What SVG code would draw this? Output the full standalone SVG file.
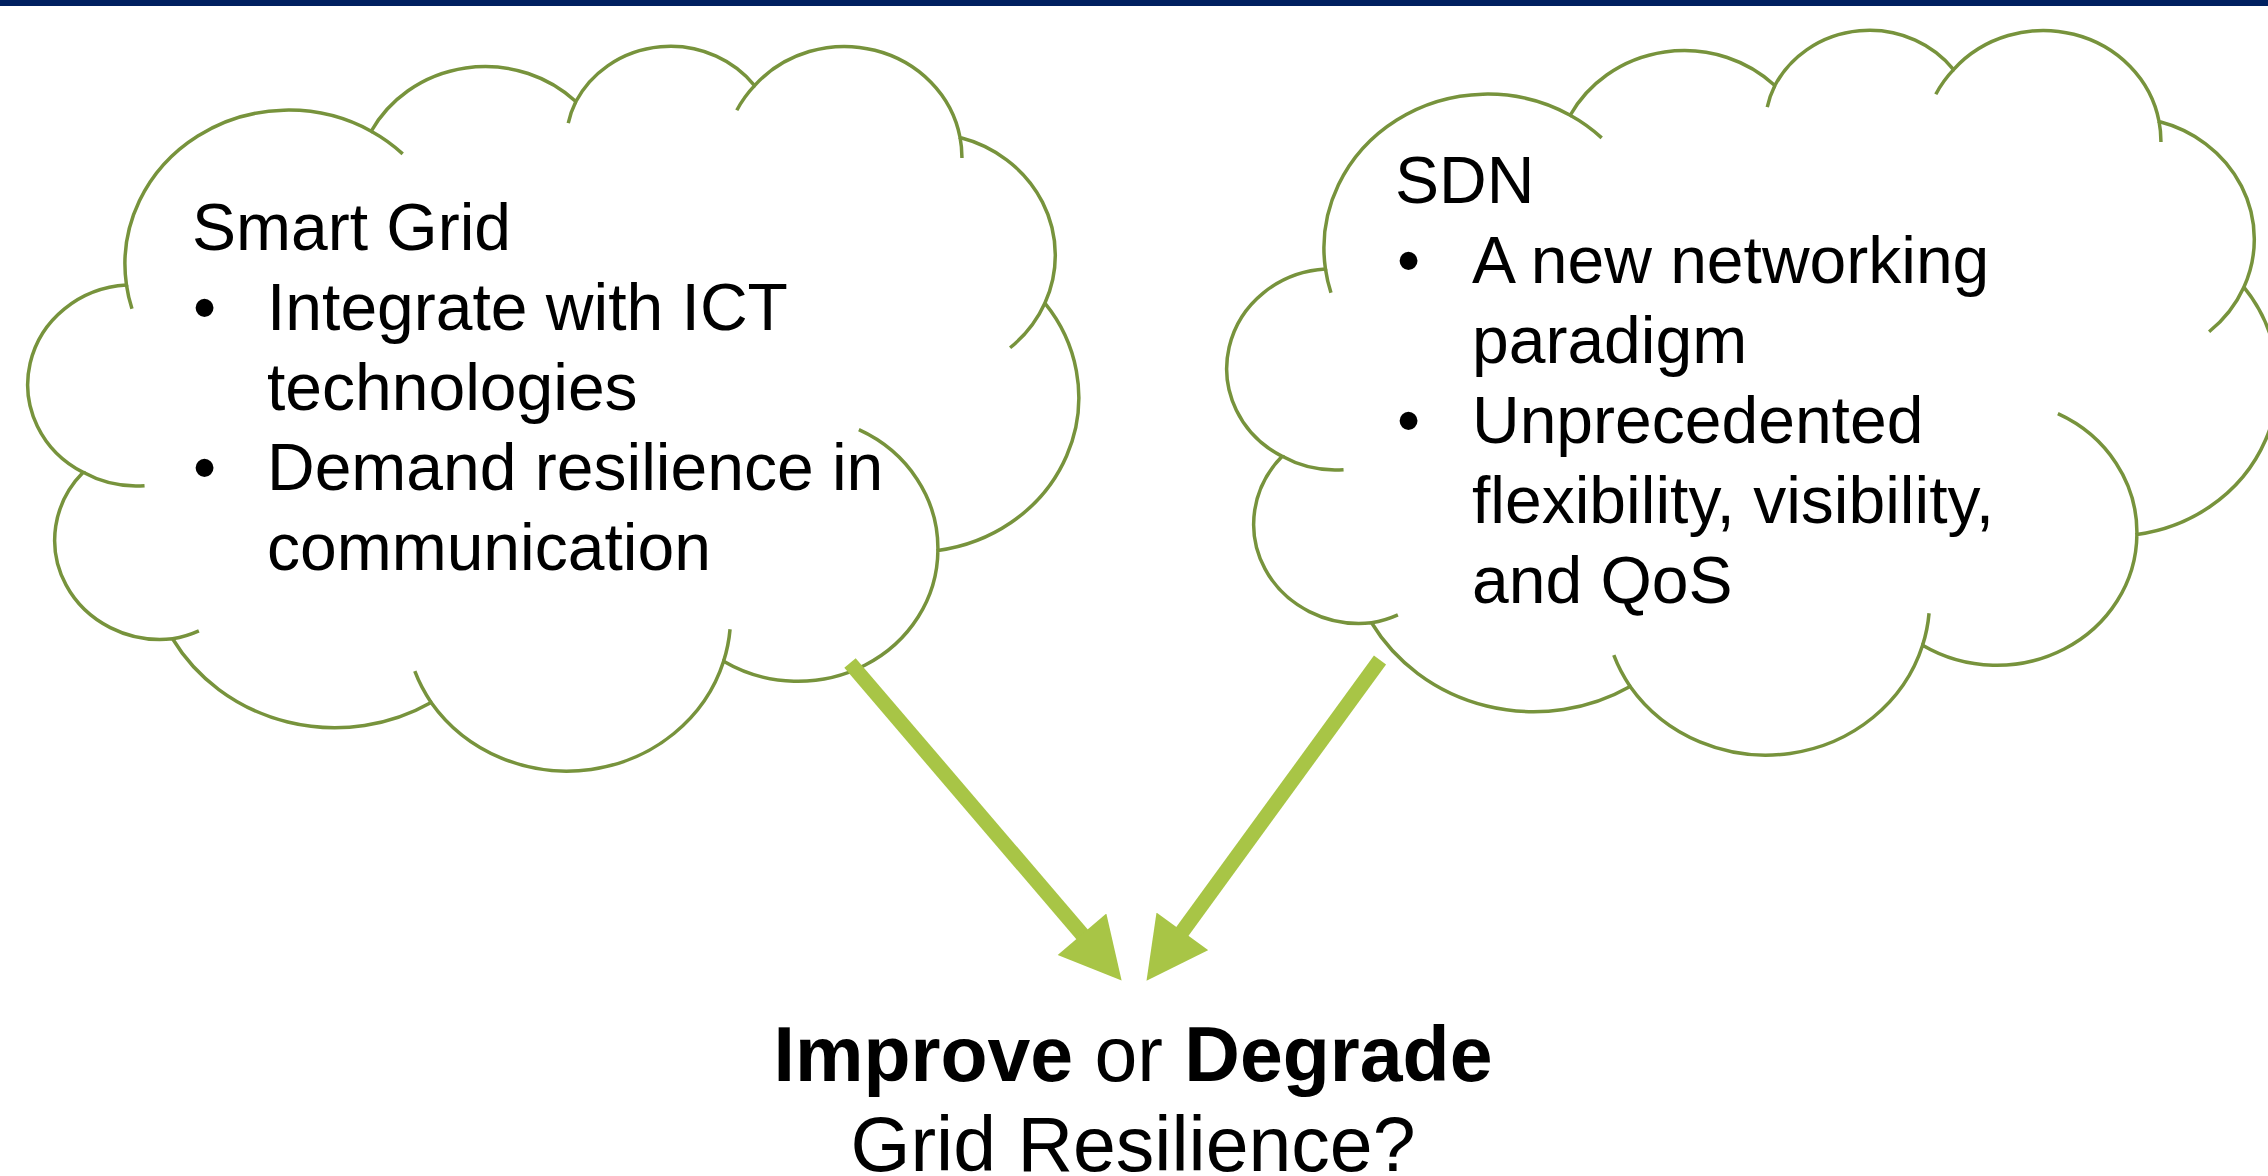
<svg xmlns="http://www.w3.org/2000/svg" width="2268" height="1176" viewBox="0 0 2268 1176">
  <style>
    .cloud { fill: #ffffff; stroke: #77933C; stroke-width: 3.5; }
    .cloud-detail { fill: none; stroke: #77933C; stroke-width: 3.5; }
    .body { font-family: "Liberation Sans", Arial, sans-serif; font-size: 66px; fill: #000000; }
    .verdict { font-family: "Liberation Sans", Arial, sans-serif; font-size: 77px; fill: #000000; }
    .bold { font-weight: bold; }
    .conn { stroke: #A8C546; stroke-width: 15; fill: none; stroke-linecap: butt; }
  </style>
  <defs>
    <!-- cloud outline: eleven elliptical lobes -->
    <path id="cloud-outline" class="cloud" d="M126.46,284.98 A163.56,154.12 0 0 1 371.20,131.24 A129.17,121.87 0 0 1 575.86,101.55 A105.72,99.70 0 0 1 754.56,85.59 A117.64,110.60 0 0 1 960.06,137.48 A129.17,121.97 0 0 1 1044.86,303.23 A164.09,154.62 0 0 1 937.90,550.44 A140.11,131.93 0 0 1 723.60,661.29 A163.53,154.54 0 0 1 431.12,702.41 A186.98,176.81 0 0 1 172.55,638.76 A105.60,99.25 0 0 1 83.20,472.34 A105.24,99.70 0 0 1 126.46,284.98 Z"/>
    <!-- short inner continuations of the lobes -->
    <path id="cloud-details" class="cloud-detail" d="M144.55,485.69 A105.24,99.70 0 0 1 83.20,472.34 M198.88,630.78 A105.60,99.25 0 0 1 172.55,638.76 M431.12,702.41 A163.53,154.54 0 0 1 414.80,671.20 M730.05,629.27 A163.53,154.54 0 0 1 723.60,661.29 M858.87,429.71 A140.11,131.93 0 0 1 937.90,550.44 M1044.86,303.23 A129.17,121.97 0 0 1 1010.10,347.75 M960.06,137.48 A117.64,110.60 0 0 1 961.93,158.04 M736.80,110.24 A117.64,110.60 0 0 1 754.56,85.59 M568.26,123.15 A105.72,99.70 0 0 1 575.86,101.55 M371.20,131.24 A163.56,154.12 0 0 1 402.69,153.88 M131.96,308.80 A163.56,154.12 0 0 1 126.46,284.98"/>
    <marker id="head" markerUnits="userSpaceOnUse" markerWidth="62" markerHeight="64" viewBox="0 0 60 63" refX="5" refY="31.5" orient="auto">
      <path d="M0,0 L60,31.5 L0,63 Z" fill="#A8C546"/>
    </marker>
  </defs>

  <rect id="title-bar" x="0" y="0" width="2268" height="6" fill="#002060"/>

  <g id="smart-grid">
    <use href="#cloud-outline"/>
    <use href="#cloud-details"/>
    <text class="body" x="192" y="250">Smart Grid</text>
    <text class="body" x="193" y="330">•</text>
    <text class="body" x="267" y="330">Integrate with ICT</text>
    <text class="body" x="267" y="410">technologies</text>
    <text class="body" x="193" y="490">•</text>
    <text class="body" x="267" y="490">Demand resilience in</text>
    <text class="body" x="267" y="570">communication</text>
  </g>

  <g id="sdn">
    <use href="#cloud-outline" transform="translate(1199,-16)"/>
    <use href="#cloud-details" transform="translate(1199,-16)"/>
    <text class="body" x="1395" y="203">SDN</text>
    <text class="body" x="1397" y="283">•</text>
    <text class="body" x="1472" y="283">A new networking</text>
    <text class="body" x="1472" y="363">paradigm</text>
    <text class="body" x="1397" y="443">•</text>
    <text class="body" x="1472" y="443">Unprecedented</text>
    <text class="body" x="1472" y="523">flexibility, visibility,</text>
    <text class="body" x="1472" y="603">and QoS</text>
  </g>

  <g id="connectors">
    <line class="conn" x1="850" y1="663" x2="1085.3" y2="938.1" marker-end="url(#head)"/>
    <line class="conn" x1="1380" y1="660" x2="1179.4" y2="935.5" marker-end="url(#head)"/>
  </g>

  <g id="question">
    <text class="verdict" x="1133" y="1081" text-anchor="middle"><tspan class="bold">Improve</tspan> or <tspan class="bold">Degrade</tspan></text>
    <text class="verdict" x="1133" y="1171" text-anchor="middle">Grid Resilience?</text>
  </g>
</svg>
